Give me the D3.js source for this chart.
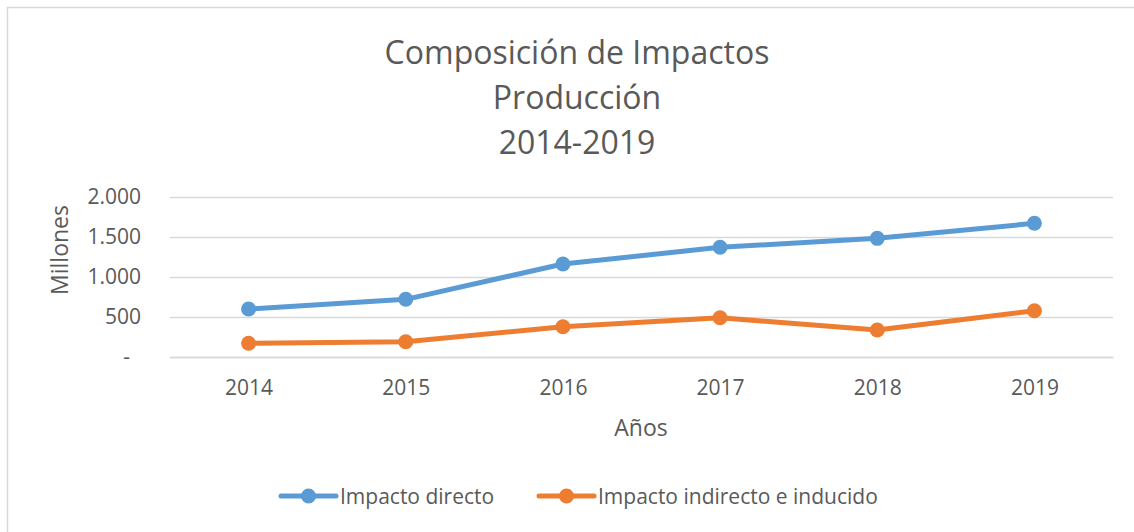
<!DOCTYPE html>
<html>
<head>
<meta charset="utf-8">
<script src="https://cdn.jsdelivr.net/npm/d3@7"></script>
<style>
  body { margin: 0; background: #fff; }
  text { font-family: "Open Sans", "Liberation Sans", sans-serif; fill: #595959; }
</style>
</head>
<body>
<div id="chart"></div>
<script>
// data (millions)
var years = ["2014", "2015", "2016", "2017", "2018", "2019"];
var directo = [600, 721, 1162, 1371, 1483, 1671];
var indirecto = [171, 191, 379, 491, 337, 579];
var seriesNames = ["Impacto directo", "Impacto indirecto e inducido"];
var seriesColors = ["#5B9BD5", "#ED7D31"];
var yTicks = [0, 500, 1000, 1500, 2000];
var titleLines = ["Composición de Impactos", "Producción", "2014-2019"];

var svgWidth = 1134;
var svgHeight = 532;

var margin = { top: 197, right: 21, bottom: 175, left: 170 };
var chartWidth = svgWidth - margin.left - margin.right;
var chartHeight = svgHeight - margin.top - margin.bottom;

var svg = d3.select("#chart").append("svg")
    .attr("width", svgWidth)
    .attr("height", svgHeight);

// outer chart border (runs off the right/bottom edge like the screenshot)
svg.append("rect")
    .attr("x", 7.5).attr("y", 7.5)
    .attr("width", svgWidth + 20).attr("height", svgHeight + 20)
    .attr("fill", "none").attr("stroke", "#d9d9d9").attr("stroke-width", 1.5);

// title
svg.append("g").selectAll("text").data(titleLines).enter().append("text")
    .attr("x", 577)
    .attr("y", (d, i) => 64 + i * 45)
    .attr("text-anchor", "middle")
    .style("font-size", "32px")
    .text(d => d);

var chartGrp = svg.append("g")
    .attr("transform", `translate(${margin.left}, ${margin.top})`);

var xScale = d3.scalePoint().domain(years).range([0, chartWidth]).padding(0.5);
var yScale = d3.scaleLinear().domain([0, 2000]).range([chartHeight, 0]);

// y axis with gridlines
var yAxis = chartGrp.append("g")
    .call(d3.axisLeft(yScale).tickValues(yTicks).tickSize(-chartWidth).tickPadding(29)
        .tickFormat(d => d === 0 ? "-" : d3.format(",")(d).replace(/,/g, ".")));
yAxis.select(".domain").remove();
yAxis.selectAll(".tick line").attr("stroke", "#d9d9d9").attr("stroke-width", 1.5);
yAxis.selectAll(".tick text").style("font-size", "21px").attr("fill", "#595959");
yAxis.selectAll(".tick text").filter(d => d === 0).attr("dx", -11);

// x axis
var xAxis = chartGrp.append("g")
    .attr("transform", `translate(0, ${chartHeight})`)
    .call(d3.axisBottom(xScale).tickSize(0).tickPadding(23));
xAxis.select(".domain").attr("stroke", "#d9d9d9").attr("stroke-width", 1.5);
xAxis.selectAll(".tick text").style("font-size", "21px").attr("fill", "#595959");

// axis titles
svg.append("text")
    .attr("transform", "translate(68, 250) rotate(-90)")
    .attr("text-anchor", "middle")
    .style("font-size", "23px")
    .text("Millones");

svg.append("text")
    .attr("x", 641).attr("y", 436)
    .attr("text-anchor", "middle")
    .style("font-size", "23px")
    .text("Años");

// lines + markers
var allSeries = [directo, indirecto];
var line = d3.line().x((d, i) => xScale(years[i])).y(d => yScale(d));

allSeries.forEach(function(values, s) {
    chartGrp.append("path")
        .datum(values)
        .attr("d", line)
        .attr("fill", "none")
        .attr("stroke", seriesColors[s])
        .attr("stroke-width", 5)
        .attr("stroke-linejoin", "round")
        .attr("stroke-linecap", "round");

    chartGrp.append("g").selectAll("circle").data(values).enter().append("circle")
        .attr("cx", (d, i) => xScale(years[i]))
        .attr("cy", d => yScale(d))
        .attr("r", 7.5)
        .attr("fill", seriesColors[s]);
});

// legend
var legendX = [281, 539];
var legend = svg.append("g");
seriesNames.forEach(function(name, s) {
    var lg = legend.append("g").attr("transform", `translate(${legendX[s]}, 496)`);
    lg.append("line")
        .attr("x1", 0).attr("x2", 55).attr("y1", 0).attr("y2", 0)
        .attr("stroke", seriesColors[s]).attr("stroke-width", 5).attr("stroke-linecap", "round");
    lg.append("circle").attr("cx", 27.5).attr("cy", 0).attr("r", 7.5).attr("fill", seriesColors[s]);
    lg.append("text")
        .attr("x", 59).attr("y", 8)
        .style("font-size", "21px")
        .text(name);
});
</script>
</body>
</html>
